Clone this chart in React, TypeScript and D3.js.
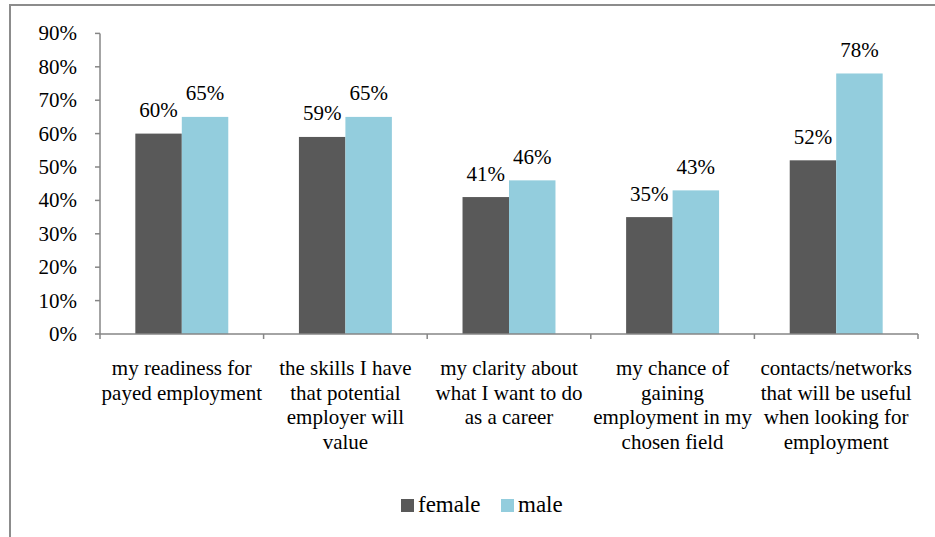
import React from "react";
import * as d3 from "d3";

const categories: string[][] = [
  ["my readiness for", "payed employment"],
  ["the skills I have", "that potential", "employer will", "value"],
  ["my clarity about", "what I want to do", "as a career"],
  ["my chance of", "gaining", "employment in my", "chosen field"],
  ["contacts/networks", "that will be useful", "when looking for", "employment"],
];
const female = [60, 59, 41, 35, 52];
const male = [65, 65, 46, 43, 78];
const seriesNames = ["female", "male"];
const seriesColors = ["#595959", "#93CDDD"];
const yTicks = [0, 10, 20, 30, 40, 50, 60, 70, 80, 90];

const W = 935;
const H = 537;
const FONT = '"Liberation Serif"';

export default function App() {
  const x0 = 100, x1 = 918, yTop = 33.4, yBot = 334;
  const x = d3.scaleBand<number>().domain(d3.range(categories.length)).range([x0, x1]).paddingInner(0).paddingOuter(0);
  const y = d3.scaleLinear().domain([0, 90]).range([yBot, yTop]);
  const inner = d3.scaleBand<number>().domain([0, 1]).range([0, x.bandwidth()]).paddingInner(0).paddingOuter(0.76);
  const series = [female, male];
  const axisColor = "#868686";
  const ts: React.CSSProperties = { fontFamily: FONT };
  const fs = 21;

  return (
    <div style={{ position: "fixed", left: 0, top: 0, width: W, height: H, background: "#fff" }}>
      <svg width={W} height={H} style={{ display: "block" }}>
        <rect x={10} y={5} width={W + 10} height={H + 10} fill="#fff" stroke="#8c8c8c" strokeWidth={2} />
        {series.map((vals, s) =>
          vals.map((v, i) => (
            <rect
              key={`b${s}-${i}`}
              x={(x(i) as number) + (inner(s) as number)}
              y={y(v)}
              width={inner.bandwidth()}
              height={yBot - y(v)}
              fill={seriesColors[s]}
            />
          ))
        )}
        <line x1={x0} x2={x0} y1={y(90)} y2={yBot} stroke={axisColor} strokeWidth={1.5} />
        {yTicks.map((t) => (
          <g key={`yt${t}`}>
            <line x1={x0 - 5} x2={x0} y1={y(t)} y2={y(t)} stroke={axisColor} strokeWidth={1.5} />
            <text x={77} y={y(t)} dy="0.33em" textAnchor="end" fontSize={fs} fill="#000" style={ts}>
              {t}%
            </text>
          </g>
        ))}
        <line x1={x0} x2={x1} y1={yBot} y2={yBot} stroke={axisColor} strokeWidth={1.5} />
        {d3.range(categories.length + 1).map((i) => {
          const xx = i < categories.length ? (x(i) as number) : x1;
          return <line key={`xt${i}`} x1={xx} x2={xx} y1={yBot} y2={yBot + 5} stroke={axisColor} strokeWidth={1.5} />;
        })}
        {categories.map((lines, i) => (
          <text key={`c${i}`} x={(x(i) as number) + x.bandwidth() / 2} y={375} textAnchor="middle" fontSize={fs} fill="#000" style={ts}>
            {lines.map((l, j) => (
              <tspan key={j} x={(x(i) as number) + x.bandwidth() / 2} dy={j === 0 ? 0 : 24.5}>
                {l}
              </tspan>
            ))}
          </text>
        ))}
        {series.map((vals, s) =>
          vals.map((v, i) => (
            <text
              key={`l${s}-${i}`}
              x={(x(i) as number) + (inner(s) as number) + inner.bandwidth() / 2}
              y={y(v) - 16.5}
              textAnchor="middle"
              fontSize={fs}
              fill="#000"
              style={ts}
            >
              {v}%
            </text>
          ))
        )}
        {seriesNames.map((n, s) => {
          const lx = s === 0 ? 401 : 501;
          return (
            <g key={`lg${s}`}>
              <rect x={lx} y={499} width={13} height={13} fill={seriesColors[s]} />
              <text x={lx + 17} y={512} fontSize={23} fill="#000" style={ts}>
                {n}
              </text>
            </g>
          );
        })}
      </svg>
    </div>
  );
}
